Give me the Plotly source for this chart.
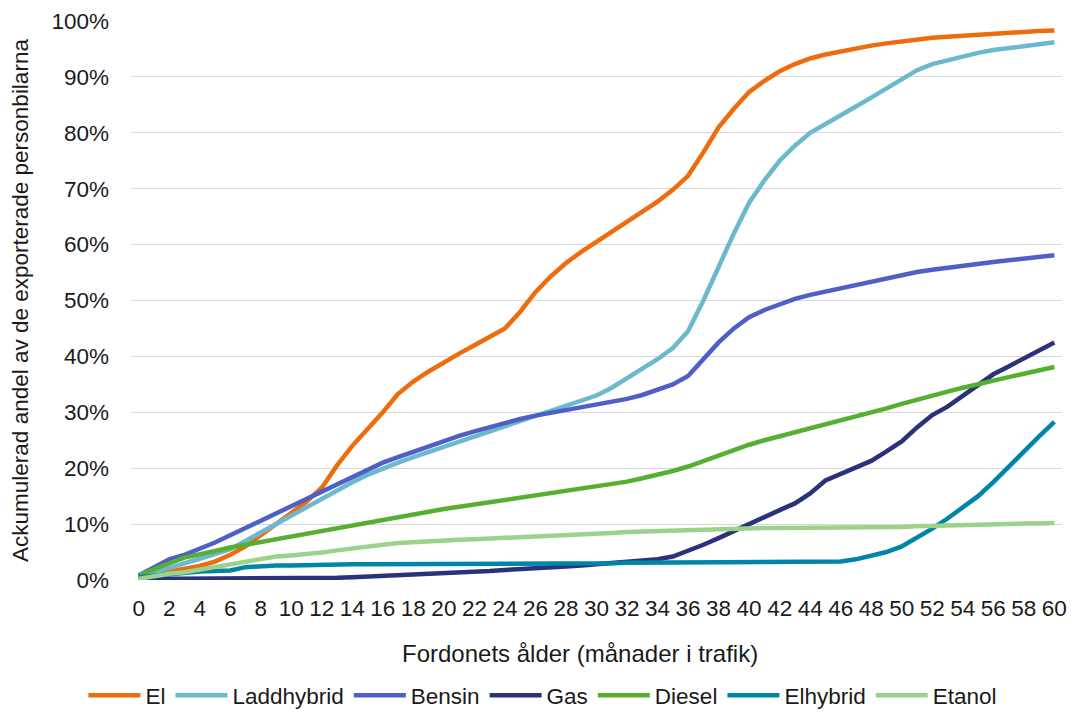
import plotly.graph_objects as go

months = list(range(0, 61))

el = [0.5, 1.0, 1.5, 2.0, 2.5, 3.3, 4.5, 6.0, 8.0, 10.0, 12.0, 14.0, 16.5, 20.5, 24.0, 27.0, 30.0, 33.3, 35.5, 37.3,
      39.0, 40.5, 42.0, 43.5, 45.0, 48.0, 51.5, 54.3, 56.7, 58.7, 60.5, 62.3, 64.0, 65.7, 67.7, 69.8, 72.3, 76.5, 81.0, 84.3,
      87.3, 89.3, 91.0, 92.3, 93.3, 94.0, 94.6, 95.1, 95.6, 96.0, 96.4, 96.8, 97.0, 97.2, 97.4, 97.6, 97.7, 97.9, 98.0, 98.2,
      98.3]

laddhybrid = [0.5, 1.4, 2.2, 3.0, 3.8, 4.6, 5.5, 7.0, 8.5, 10.0, 11.5, 13.1, 14.7, 16.1, 17.5, 18.8, 20.0, 21.0, 22.0, 22.9,
              23.8, 24.7, 25.6, 26.5, 27.5, 28.4, 29.2, 30.1, 31.0, 32.0, 33.0, 34.4, 36.0, 37.8, 39.5, 41.5, 44.5, 50.0, 56.0, 62.0,
              67.5, 71.5, 75.0, 77.7, 80.0, 81.5, 83.0, 84.7, 86.3, 88.0, 89.6, 91.2, 92.3, 93.0, 93.6, 94.3, 94.8, 95.2, 95.6, 95.9,
              96.2]

bensin = [0.8, 2.3, 3.7, 4.5, 5.5, 6.7, 8.0, 9.3, 10.7, 12.0, 13.2, 14.5, 15.7, 17.0, 18.3, 19.6, 21.0, 22.0, 23.0, 24.0,
          25.0, 25.8, 26.6, 27.4, 28.1, 28.8, 29.4, 29.9, 30.4, 30.9, 31.4, 31.9, 32.4, 33.1, 34.0, 35.0, 36.5, 39.5, 42.5, 45.0,
          47.0, 48.3, 49.4, 50.3, 51.0, 51.6, 52.2, 52.8, 53.4, 54.0, 54.6, 55.1, 55.5, 55.9, 56.3, 56.6, 56.9, 57.2, 57.5, 57.8,
          58.1]

gas = [0.2, 0.2, 0.2, 0.2, 0.2, 0.2, 0.2, 0.2, 0.2, 0.2, 0.3, 0.3, 0.4, 0.4, 0.5, 0.6, 0.8, 0.9, 1.0, 1.1,
       1.2, 1.3, 1.5, 1.6, 1.8, 1.9, 2.1, 2.2, 2.4, 2.6, 2.8, 3.0, 3.2, 3.4, 3.7, 4.2, 5.2, 6.3, 7.5, 8.8,
       10.0, 11.2, 12.5, 13.7, 15.5, 17.8, 19.0, 20.0, 21.3, 23.0, 24.8, 27.3, 29.5, 31.0, 33.0, 35.0, 36.8, 38.2, 39.7, 41.2,
       42.5]

diesel = [0.8, 2.0, 3.0, 4.0, 4.7, 5.2, 5.8, 6.3, 6.8, 7.3, 7.8, 8.3, 8.8, 9.3, 9.8, 10.3, 10.8, 11.3, 11.8, 12.3,
          12.7, 13.1, 13.5, 13.9, 14.3, 14.7, 15.1, 15.5, 15.9, 16.3, 16.7, 17.1, 17.6, 18.2, 18.8, 19.5, 20.3, 21.3, 22.3, 23.3,
          24.2, 25.0, 25.7, 26.4, 27.1, 27.7, 28.4, 29.1, 29.9, 30.7, 31.5, 32.3, 33.0, 33.7, 34.4, 35.1, 35.7, 36.3, 36.9, 37.5,
          38.1]

elhybrid = [0.5, 0.8, 1.1, 1.3, 1.5, 1.6, 1.7, 2.3, 2.5, 2.6, 2.6, 2.7, 2.7, 2.7, 2.8, 2.8, 2.8, 2.8, 2.8, 2.9,
            2.9, 2.9, 2.9, 2.9, 3.0, 3.0, 3.0, 3.0, 3.0, 3.0, 3.0, 3.0, 3.1, 3.1, 3.1, 3.1, 3.1, 3.1, 3.1, 3.1,
            3.2, 3.2, 3.2, 3.2, 3.2, 3.3, 3.3, 3.7, 4.3, 5.0, 6.0, 7.5, 9.2, 11.0, 13.0, 15.0, 17.5, 20.3, 23.0, 25.7,
            28.3]

etanol = [0.2, 0.7, 1.1, 1.4, 1.9, 2.3, 2.8, 3.4, 3.8, 4.2, 4.4, 4.6, 4.9, 5.3, 5.7, 6.0, 6.3, 6.6, 6.8, 7.0,
          7.1, 7.2, 7.3, 7.4, 7.5, 7.6, 7.7, 7.9, 8.1, 8.2, 8.3, 8.4, 8.6, 8.7, 8.8, 8.9, 9.0, 9.1, 9.2, 9.3,
          9.3, 9.3, 9.3, 9.3, 9.3, 9.3, 9.3, 9.3, 9.4, 9.5, 9.5, 9.6, 9.7, 9.8, 9.9, 9.9, 10.0, 10.0, 10.1, 10.1,
          10.2]

series = [
    ("El", el, "#EE6B0E"),
    ("Laddhybrid", laddhybrid, "#6CB8CF"),
    ("Bensin", bensin, "#4F5FC8"),
    ("Gas", gas, "#2A327A"),
    ("Diesel", diesel, "#55B031"),
    ("Elhybrid", elhybrid, "#0084A8"),
    ("Etanol", etanol, "#9CD28A"),
]

fig = go.Figure()
for name, values, color in series:
    fig.add_trace(go.Scatter(
        x=months, y=values, mode="lines", name=name,
        line=dict(color=color, width=4.5, shape="linear"),
    ))

font_family = "Liberation Sans, Arial, sans-serif"
TXT = 22.5

fig.update_layout(
    width=1073, height=717,
    margin=dict(l=131, r=11, t=21, b=137, autoexpand=False),
    paper_bgcolor="white", plot_bgcolor="white",
    font=dict(family=font_family, size=TXT, color="#1a1a1a"),
    showlegend=True,
    legend=dict(
        orientation="h", xref="container", x=0.506, xanchor="center",
        yref="container", y=-0.011, yanchor="bottom",
        font=dict(size=TXT), itemwidth=52, tracegroupgap=0,
    ),
    xaxis=dict(
        range=[-0.5, 60.5], tickmode="array", tickvals=list(range(0, 61, 2)),
        showgrid=False, zeroline=False, showline=False,
        ticks="", ticklabelstandoff=12,
        tickfont=dict(size=TXT),
    ),
    yaxis=dict(
        range=[0, 100], dtick=10, ticksuffix="%",
        showgrid=True, gridcolor="#D9D9D9", gridwidth=1.3,
        zeroline=False, showline=False, ticks="", ticklabelstandoff=21,
        tickfont=dict(size=TXT),
        title=dict(text="Ackumulerad andel av de exporterade personbilarna", font=dict(size=TXT), standoff=16),
    ),
    annotations=[dict(
        text="Fordonets ålder (månader i trafik)", showarrow=False,
        xref="paper", yref="paper", x=0.482, y=-0.131, xanchor="center", yanchor="middle",
        font=dict(size=24),
    )],
)

fig.write_html("out.html")
